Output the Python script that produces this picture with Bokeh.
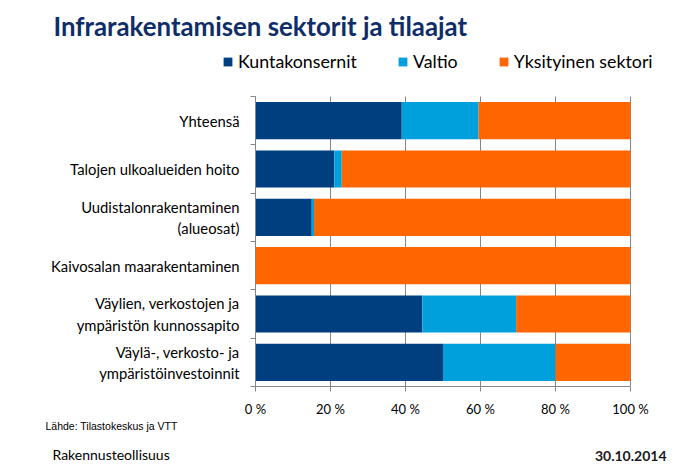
from bokeh.plotting import figure
from bokeh.models import (Range1d, LinearAxis, FixedTicker, Label,
                          Legend, LegendItem, ColumnDataSource)
from bokeh.embed import file_html
from bokeh.resources import INLINE

# ---- data (top-to-bottom as in the chart) ----
categories = [
    "Yhteensä",
    "Talojen ulkoalueiden hoito",
    "Uudistalonrakentaminen\n(alueosat)",
    "Kaivosalan maarakentaminen",
    "Väylien, verkostojen ja\nympäristön kunnossapito",
    "Väylä-, verkosto- ja\nympäristöinvestoinnit",
]
kuntakonsernit = [39.0, 21.0, 15.0, 0.0, 44.5, 50.0]
valtio = [20.5, 2.0, 0.6, 0.0, 25.0, 30.0]
yksityinen = [40.5, 77.0, 84.4, 100.0, 30.5, 20.0]
series_names = ["Kuntakonsernit", "Valtio", "Yksityinen sektori"]
colors = ["#003F7F", "#00A0DC", "#FF6600"]
x_ticks = [0, 20, 40, 60, 80, 100]
x_tick_labels = ["0 %", "20 %", "40 %", "60 %", "80 %", "100 %"]

title_text = "Infrarakentamisen sektorit ja tilaajat"
source_text = "Lähde: Tilastokeskus ja VTT"
footer_left = "Rakennusteollisuus"
footer_right = "30.10.2014"

FONT = "Lato"
W, H = 676, 468
# plot area in canvas pixels
PL, PR, PT, PB = 255, 630, 96, 386

n = len(categories)
ypos = [n - i - 0.5 for i in range(n)]   # category slot centres, first at top
src = ColumnDataSource(dict(ypos=ypos, k=kuntakonsernit, v=valtio, y=yksityinen))

# frame covers the whole canvas; ranges chosen so 0..100 % / 0..n fill the plot area
sx = (PR - PL) / 100.0
sy = (PB - PT) / float(n)
x_range = Range1d(-PL / sx, (W - PL) / sx)
y_range = Range1d(-(H - PB) / sy, n + PT / sy)

p = figure(width=W, height=H, output_backend="svg", toolbar_location=None,
           x_range=x_range, y_range=y_range,
           x_axis_location=None, y_axis_location=None, min_border=0)
p.outline_line_color = None
p.background_fill_color = "white"
p.border_fill_color = "white"
p.xgrid.visible = False
p.ygrid.visible = False

# vertical gridlines at the x ticks, spanning the category area
p.segment(x0=x_ticks, x1=x_ticks, y0=[0] * len(x_ticks), y1=[n] * len(x_ticks),
          line_color="#868686", line_width=1)

rs = p.hbar_stack(["k", "v", "y"], y="ypos", height=0.77, color=colors,
                  line_color=None, source=src)

xa = LinearAxis(ticker=FixedTicker(ticks=x_ticks), fixed_location=0, bounds=(0, 100),
                major_label_overrides={t: l for t, l in zip(x_ticks, x_tick_labels)})
xa.axis_line_color = "#868686"
xa.major_tick_line_color = "#868686"
xa.major_tick_in = 0
xa.major_tick_out = 5
xa.minor_tick_line_color = None
xa.major_label_text_font = FONT
xa.major_label_text_font_size = "13px"
xa.major_label_text_color = "#000000"
xa.major_label_standoff = 9
p.add_layout(xa, "below")

ya_ticks = LinearAxis(ticker=FixedTicker(ticks=list(range(n + 1))), fixed_location=0,
                      bounds=(0, n))
ya_ticks.axis_line_color = "#868686"
ya_ticks.major_tick_line_color = "#868686"
ya_ticks.major_tick_in = 0
ya_ticks.major_tick_out = 5
ya_ticks.minor_tick_line_color = None
ya_ticks.major_label_text_color = None
ya_ticks.major_label_standoff = 0
p.add_layout(ya_ticks, "left")

ya = LinearAxis(ticker=FixedTicker(ticks=ypos), fixed_location=0, bounds=(0, n),
                major_label_overrides={yp: c for yp, c in zip(ypos, categories)})
ya.axis_line_color = None
ya.major_tick_line_color = None
ya.major_tick_out = 0
ya.major_tick_in = 0
ya.minor_tick_line_color = None
ya.major_label_text_font = FONT
ya.major_label_text_font_size = "14.8px"
ya.major_label_text_color = "#000000"
ya.major_label_standoff = 16
p.add_layout(ya, "left")

legend = Legend(items=[LegendItem(label=nm, renderers=[r]) for nm, r in zip(series_names, rs)],
                orientation="horizontal", location=(222, H - 72),
                glyph_width=11, glyph_height=11, label_standoff=5, spacing=40,
                padding=0, margin=0, border_line_color=None, background_fill_alpha=0,
                label_height=20, label_text_baseline="middle",
                label_text_font=FONT, label_text_font_size="17.8px", label_text_color="#000000")
p.add_layout(legend)

# texts (canvas pixels, y from top)
p.add_layout(Label(x=53, y=25, x_units="canvas", y_units="canvas", text=title_text,
                   text_font=FONT, text_font_style="bold", text_font_size="25.8px",
                   text_color="#0F2D69", text_baseline="alphabetic"))
p.add_layout(Label(x=45, y=425, x_units="canvas", y_units="canvas", text=source_text,
                   text_font="Liberation Sans", text_font_size="10.5px",
                   text_color="#000000", text_baseline="middle"))
p.add_layout(Label(x=52, y=454, x_units="canvas", y_units="canvas", text=footer_left,
                   text_font=FONT, text_font_size="14px",
                   text_color="#000000", text_baseline="middle"))
p.add_layout(Label(x=666, y=455, x_units="canvas", y_units="canvas", text=footer_right,
                   text_font=FONT, text_font_size="14px", text_font_style="bold",
                   text_color="#1a1a1a", text_baseline="middle", text_align="right"))

open("out.html", "w").write(file_html(p, INLINE))
